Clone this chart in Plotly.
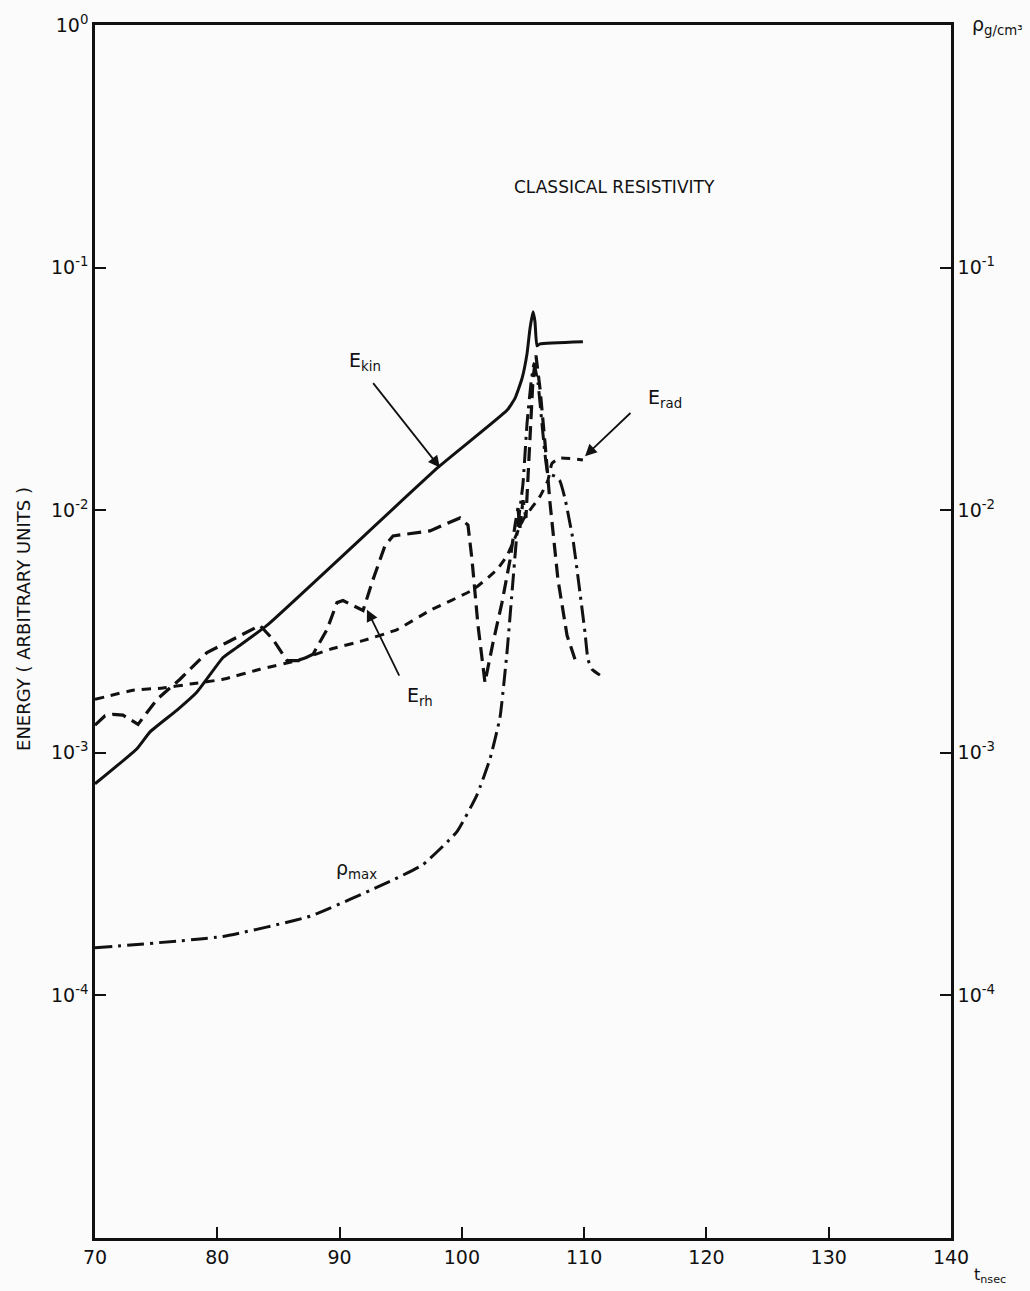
import math
import plotly.graph_objects as go

# ---- data (t in nsec, energies in arbitrary units, rho in g/cm^3) ----
t_kin = [70.0, 73.43, 74.50, 76.71, 78.34, 80.47, 81.61, 84.06, 98.05, 103.69, 104.34,
         104.92, 105.33, 105.57, 105.82, 105.98, 106.14, 106.39, 109.90]
e_kin = [7.45e-4, 1.04e-3, 1.22e-3, 1.50e-3, 1.78e-3, 2.47e-3, 2.72e-3, 3.35e-3, 1.50e-2,
         2.58e-2, 2.89e-2, 3.49e-2, 4.42e-2, 5.60e-2, 6.58e-2, 5.98e-2, 4.76e-2, 4.85e-2, 4.95e-2]

t_rh = [70.0, 70.82, 71.47, 72.29, 73.52, 75.07, 76.95, 79.16, 80.79, 83.49, 84.56, 85.70,
        86.76, 87.83, 88.97, 89.79, 90.28, 91.92, 92.73, 93.71, 94.37, 97.39, 99.85, 100.50,
        100.83, 101.32, 101.89, 102.55, 103.28, 103.94, 104.34, 104.59, 104.75, 105.00,
        105.24, 105.57, 105.82, 106.06, 106.39, 106.80, 107.21, 107.86, 108.60, 109.25]
e_rh = [1.30e-3, 1.42e-3, 1.44e-3, 1.43e-3, 1.31e-3, 1.66e-3, 2.01e-3, 2.59e-3, 2.85e-3,
        3.35e-3, 2.93e-3, 2.40e-3, 2.40e-3, 2.55e-3, 3.22e-3, 4.16e-3, 4.24e-3, 3.86e-3,
        5.17e-3, 7.13e-3, 7.83e-3, 8.22e-3, 9.29e-3, 8.69e-3, 6.25e-3, 3.35e-3, 1.95e-3,
        2.85e-3, 4.16e-3, 6.25e-3, 8.61e-3, 1.02e-2, 8.45e-3, 1.10e-2, 9.29e-3, 2.07e-2,
        3.49e-2, 4.34e-2, 3.17e-2, 1.89e-2, 1.07e-2, 5.17e-3, 3.05e-3, 2.43e-3]

t_rad = [70.0, 73.11, 75.56, 77.77, 80.47, 83.49, 86.52, 89.22, 91.92, 94.70, 97.39,
         100.91, 102.87, 103.69, 105.00, 106.39, 107.04, 107.37, 108.02, 109.90]
e_rad = [1.66e-3, 1.81e-3, 1.85e-3, 1.92e-3, 2.01e-3, 2.21e-3, 2.40e-3, 2.67e-3, 2.90e-3,
         3.22e-3, 3.86e-3, 4.70e-3, 5.69e-3, 6.49e-3, 9.12e-3, 1.14e-2, 1.33e-2, 1.56e-2,
         1.64e-2, 1.61e-2]

t_rho = [70.0, 80.47, 87.58, 94.12, 96.82, 99.60, 101.24, 102.30, 103.12, 103.69, 104.10,
         104.51, 105.00, 105.33, 105.65, 105.90, 106.23, 106.63, 107.04, 107.62, 108.02,
         108.43, 109.09, 109.66, 110.07, 110.31, 110.64, 111.29]
rho_max = [1.57e-4, 1.75e-4, 2.12e-4, 2.95e-4, 3.46e-4, 4.73e-4, 6.71e-4, 9.44e-4, 1.40e-3,
           2.59e-3, 4.57e-3, 8.06e-3, 1.29e-2, 2.28e-2, 3.33e-2, 4.02e-2, 3.33e-2, 2.07e-2,
           1.42e-2, 1.38e-2, 1.32e-2, 1.12e-2, 7.55e-3, 4.57e-3, 3.13e-3, 2.43e-3, 2.21e-3,
           2.09e-3]

x_ticks = [70, 80, 90, 100, 110, 120, 130, 140]
left_ticks = [1e0, 1e-1, 1e-2, 1e-3, 1e-4]
left_ticktext = ["10<sup>0</sup>", "10<sup>-1</sup>", "10<sup>-2</sup>", "10<sup>-3</sup>", "10<sup>-4</sup>"]
right_ticks = [1e-1, 1e-2, 1e-3, 1e-4]
right_ticktext = ["10<sup>-1</sup>", "10<sup>-2</sup>", "10<sup>-3</sup>", "10<sup>-4</sup>"]

# label anchors (t, value) and arrows (tip t, tip value, tail t, tail value)
title_pos = (112.5, 0.214)
lbl_kin = (92.1, 4.10e-2)
lbl_rad = (116.6, 2.89e-2)
lbl_rh = (96.6, 1.70e-3)
lbl_rho = (91.4, 3.30e-4)
arr_kin = (98.2, 1.50e-2, 92.65, 3.39e-2)
arr_rad = (110.07, 1.67e-2, 113.91, 2.55e-2)
arr_rh = (92.24, 3.89e-3, 94.94, 2.05e-3)

FONT = "DejaVu Sans"
INK = "#111111"
L = math.log10

fig = go.Figure()
fig.add_trace(go.Scatter(x=t_kin, y=e_kin, mode="lines", name="E_kin",
                         line=dict(color=INK, width=3, shape="spline", smoothing=0.4)))
fig.add_trace(go.Scatter(x=t_rh, y=e_rh, mode="lines", name="E_rh",
                         line=dict(color=INK, width=3.2, dash="14px,7px")))
fig.add_trace(go.Scatter(x=t_rad, y=e_rad, mode="lines", name="E_rad",
                         line=dict(color=INK, width=3, dash="9px,7px", shape="spline", smoothing=0.4)))
fig.add_trace(go.Scatter(x=t_rho, y=rho_max, mode="lines", name="rho_max", yaxis="y2",
                         line=dict(color=INK, width=3, dash="17px,6px,3px,6px", shape="spline", smoothing=0.4)))

axis_common = dict(showline=True, linecolor=INK, linewidth=2.5, ticks="inside", ticklen=11,
                   tickwidth=2, tickcolor=INK, showgrid=False, zeroline=False,
                   tickfont=dict(family=FONT, size=19, color=INK))

fig.update_layout(
    width=1030, height=1291,
    margin=dict(l=95, r=79, t=20, b=53),
    paper_bgcolor="#fbfbfb", plot_bgcolor="#fbfbfb",
    showlegend=False,
    xaxis=dict(range=[70, 140], tickvals=x_ticks, mirror=True, **axis_common),
    yaxis=dict(type="log", range=[-5, 0], tickvals=left_ticks, ticktext=left_ticktext,
               mirror=True, **axis_common),
    yaxis2=dict(type="log", range=[-5, 0], tickvals=right_ticks, ticktext=right_ticktext,
                overlaying="y", side="right", **axis_common),
)

ann_font = dict(family=FONT, size=19, color=INK)


def label(pos, text, size=19):
    return dict(x=pos[0], y=L(pos[1]), xref="x", yref="y", text=text, showarrow=False,
                font=dict(family=FONT, size=size, color=INK))


def arrow(a):
    return dict(x=a[0], y=L(a[1]), ax=a[2], ay=L(a[3]), xref="x", yref="y", axref="x", ayref="y",
                text="", showarrow=True, arrowhead=2, arrowsize=1.3, arrowwidth=1.8, arrowcolor=INK)


annotations = [
    label(title_pos, "CLASSICAL RESISTIVITY", 17),
    label(lbl_kin, "E<sub>kin</sub>"),
    label(lbl_rad, "E<sub>rad</sub>"),
    label(lbl_rh, "E<sub>rh</sub>"),
    label(lbl_rho, "ρ<sub>max</sub>"),
    arrow(arr_kin), arrow(arr_rad), arrow(arr_rh),
    dict(x=-0.098, y=0.51, xref="paper", yref="paper", text="ENERGY ( ARBITRARY UNITS )",
         textangle=-90, showarrow=False, font=dict(family=FONT, size=18, color=INK)),
    dict(x=1.054, y=1.0, xref="paper", yref="paper", text="ρ<sub>g/cm³</sub>",
         showarrow=False, font=ann_font, xanchor="center", yanchor="middle"),
    dict(x=1.046, y=-0.0415, xref="paper", yref="paper", text="t<sub>nsec</sub>",
         showarrow=False, font=dict(family=FONT, size=16, color=INK), xanchor="center", yanchor="bottom"),
]
fig.update_layout(annotations=annotations)

fig.write_html("out.html")
